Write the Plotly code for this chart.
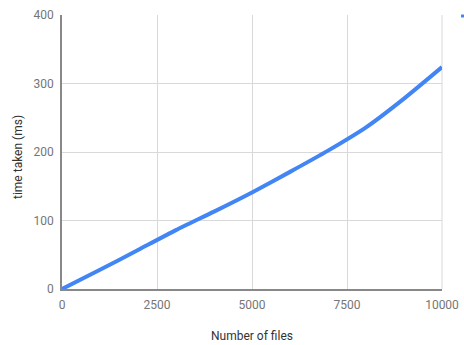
import plotly.graph_objects as go

files = [0, 1000, 2000, 3000, 4000, 5000, 6000, 7000, 8000, 9000, 10000]
time_ms = [0, 28, 57, 86, 113, 141, 171, 202, 236, 278, 324]
x_ticks = [0, 2500, 5000, 7500, 10000]
y_ticks = [0, 100, 200, 300, 400]

W, H = 464, 345
L, R, T, B = 62, 22, 15, 56
pw, ph = W - L - R, H - T - B

fig = go.Figure()
fig.add_trace(go.Scatter(
    x=files, y=time_ms, mode="lines", name="time taken",
    line=dict(color="#4285F4", width=4, shape="spline", smoothing=0.6),
    showlegend=False,
))

fig.update_layout(
    width=W, height=H,
    margin=dict(l=L, r=R, t=T, b=B),
    paper_bgcolor="white", plot_bgcolor="white",
    font=dict(family="Roboto", size=12, color="#757575"),
)
common = dict(
    showgrid=True, gridcolor="#d9d9d9", gridwidth=1,
    showline=True, linecolor="#888888", linewidth=1.5,
    zeroline=False, ticks="outside", ticklen=4, tickcolor="rgba(0,0,0,0)",
    tickfont=dict(size=12, color="#757575"), automargin=False,
)
fig.update_xaxes(range=[0, 10000], tickvals=x_ticks,
                 ticktext=[str(v) for v in x_ticks], **common)
fig.update_yaxes(range=[0, 400], tickvals=y_ticks,
                 ticktext=[str(v) for v in y_ticks], **common)

fig.add_shape(type="line", xref="paper", yref="paper", x0=1, x1=1, y0=0, y1=1,
              line=dict(color="#d9d9d9", width=1), layer="below")

fig.add_annotation(text="Number of files", xref="paper", yref="paper",
                   x=(252 - L) / pw, y=(H - B - 336) / ph,
                   xanchor="center", yanchor="middle", showarrow=False,
                   font=dict(size=12, color="#333333"))
fig.add_annotation(text="time taken (ms)", xref="paper", yref="paper",
                   x=(18 - L) / pw, y=(H - B - 157) / ph, textangle=-90,
                   xanchor="center", yanchor="middle", showarrow=False,
                   font=dict(size=12, color="#333333"))
# cut-off legend marker at the top right edge
fig.add_shape(type="line", xref="paper", yref="paper",
              x0=(461 - L) / pw, x1=(464 - L) / pw,
              y0=(H - B - 16) / ph, y1=(H - B - 16) / ph,
              line=dict(color="#4285F4", width=3))

fig.write_html("out.html", config={"displayModeBar": False},
               post_script="document.body.style.margin='0';")
